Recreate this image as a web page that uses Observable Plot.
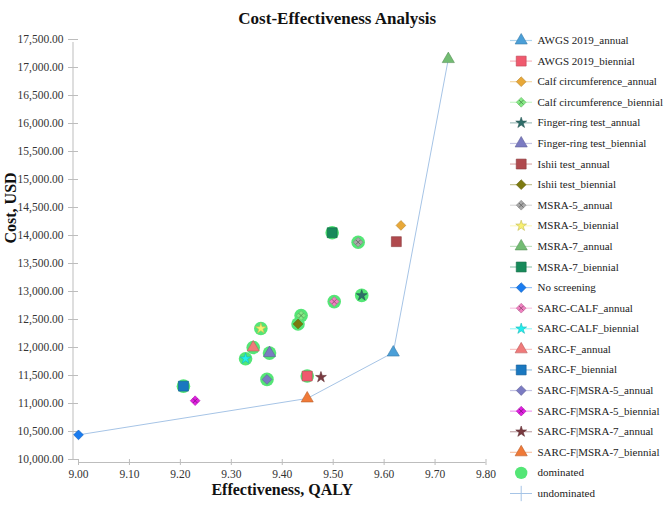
<!DOCTYPE html>
<html>
<head>
<meta charset="utf-8">
<script src="https://cdn.jsdelivr.net/npm/d3@7"></script>
<script src="https://cdn.jsdelivr.net/npm/@observablehq/plot@0.6"></script>
<style>
  body { margin: 0; background: #fff; }
  #chart { position: relative; width: 669px; height: 505px; overflow: hidden; }
  #chart svg { position: absolute; top: 0; }
</style>
</head>
<body>
<div id="chart"></div>
<script>
// Screening strategies: effectiveness (QALY) and cost (USD)
const strategies = [
  "AWGS 2019_annual", "AWGS 2019_biennial",
  "Calf circumference_annual", "Calf circumference_biennial",
  "Finger-ring test_annual", "Finger-ring test_biennial",
  "Ishii test_annual", "Ishii test_biennial",
  "MSRA-5_annual", "MSRA-5_biennial",
  "MSRA-7_annual", "MSRA-7_biennial",
  "No screening",
  "SARC-CALF_annual", "SARC-CALF_biennial",
  "SARC-F_annual", "SARC-F_biennial",
  "SARC-F|MSRA-5_annual", "SARC-F|MSRA-5_biennial",
  "SARC-F|MSRA-7_annual", "SARC-F|MSRA-7_biennial"
];
const qaly = [9.618, 9.449, 9.633, 9.437, 9.556, 9.375, 9.624, 9.431, 9.549, 9.358,
              9.726, 9.498, 9.000, 9.502, 9.328, 9.343, 9.206, 9.370, 9.229, 9.476, 9.449];
const cost = [11910, 11490, 14180, 12570, 12930, 11900, 13890, 12420, 13880, 12340,
              17150, 14050, 10440, 12820, 11800, 12000, 11310, 11430, 11050, 11470, 11090];
const dominated = [false, true, false, true, true, true, false, true, true, true,
                   false, true, false, true, true, true, true, true, false, false, false];
// Strategies on the cost-effectiveness frontier, in order of effectiveness
const frontier = ["No screening", "SARC-F|MSRA-7_biennial", "AWGS 2019_annual", "MSRA-7_annual"];

// Axis ticks
const costTicks = [10000, 10500, 11000, 11500, 12000, 12500, 13000, 13500,
                   14000, 14500, 15000, 15500, 16000, 16500, 17000, 17500];
const qalyTicks = [9.0, 9.1, 9.2, 9.3, 9.4, 9.5, 9.6, 9.7, 9.8];

// Marker styles per strategy
const symbols = ["triangle", "square", "diamond2", "diamond2", "star",
                 "triangle", "square", "diamond2", "diamond2", "star",
                 "triangle", "square", "diamond2", "diamond2", "star",
                 "triangle", "square", "diamond2", "diamond2", "star", "triangle"];
const fills = ["#4a9fd8", "#f05a6e", "#e8a838", "#84ea84", "#2f6e6a",
               "#7b7bc2", "#b04a4e", "#7c7a10", "#a8a8a8", "#f8f070",
               "#72bc72", "#178a5a", "#1a7cf0", "#f080c0", "#22eeee",
               "#f07a7a", "#1a78c0", "#7b7bc2", "#e020e0", "#7a3a40", "#f07a38"];
const hatched = [false, false, false, true, false, false, false, false, true, false,
                 false, false, false, true, false, false, false, false, true, false, false];
const symbolRadius = {triangle: 4.5, square: 5.6, diamond2: 4.4, star: 3.4};

const dominatedColor = "#54e676";
const frontierColor = "#a6c4e6";
const axisColor = "#bdbdbd";
const serif = "'Liberation Serif', 'Times New Roman', Times, serif";

const rows = strategies.map((name, i) => ({
  name, qaly: qaly[i], cost: cost[i], dominated: dominated[i],
  symbol: symbols[i], fill: fills[i], hatched: hatched[i]
}));
const byName = new Map(rows.map(d => [d.name, d]));
const frontierRows = frontier.map(n => byName.get(n));

// One dot mark per symbol kind, so each kind keeps its own fixed size
function markerMarks(data, x, y) {
  const marks = [];
  for (const sym of Object.keys(symbolRadius)) {
    const subset = data.filter(d => d.symbol === sym);
    if (!subset.length) continue;
    marks.push(Plot.dot(subset, {
      x, y, symbol: sym, r: symbolRadius[sym],
      fill: "fill", stroke: d => d3.color(d.fill).darker(0.7).formatHex(),
      strokeWidth: 0.6, fillOpacity: 1
    }));
  }
  const hatch = data.filter(d => d.hatched);
  marks.push(Plot.dot(hatch, {
    x, y, symbol: "times", r: 2.2,
    stroke: d => d3.color(d.fill).darker(1.4).formatHex(), strokeWidth: 0.9
  }));
  return marks;
}

const main = Plot.plot({
  width: 669,
  height: 505,
  marginLeft: 78,
  marginRight: 183.5,
  marginTop: 39,
  marginBottom: 46,
  x: {domain: [9.0, 9.8]},
  y: {domain: [10000, 17500]},
  color: {type: "identity"},
  style: {fontFamily: serif, background: "transparent"},
  marks: [
    // axis lines
    Plot.ruleX([9.0], {y1: 10000, y2: 17500, dx: -5.5, insetBottom: -3, stroke: axisColor}),
    Plot.ruleY([10000], {x1: 9.0, x2: 9.8, dy: 3, stroke: axisColor}),
    Plot.axisY(costTicks, {
      tickSize: 10, tickPadding: 5, tickFormat: d3.format(",.2f"),
      fontSize: 11.5, stroke: axisColor, fill: "#333", label: null
    }),
    Plot.axisX(qalyTicks, {
      tickSize: 6, tickPadding: 4, tickFormat: d3.format(".2f"),
      fontSize: 11.5, stroke: axisColor, fill: "#333", label: null
    }),
    // dominated strategies
    Plot.dot(rows.filter(d => d.dominated), {
      x: "qaly", y: "cost", r: 6.8, fill: dominatedColor, symbol: "circle"
    }),
    // frontier
    Plot.line(frontierRows, {x: "qaly", y: "cost", stroke: frontierColor, strokeWidth: 1}),
    ...markerMarks(rows, "qaly", "cost"),
    // titles
    Plot.text(["Cost-Effectiveness Analysis"], {
      text: d => d, frameAnchor: "top", dx: 55, dy: -28,
      fontSize: 17, fontWeight: "bold", fill: "#111"
    }),
    Plot.text(["Effectiveness, QALY"], {
      text: d => d, frameAnchor: "bottom", dy: 35,
      fontSize: 16, fontWeight: "bold", fill: "#111"
    }),
    Plot.text(["Cost, USD"], {
      text: d => d, frameAnchor: "left", rotate: -90, dx: -68, dy: -6,
      fontSize: 16, fontWeight: "bold", fill: "#111"
    })
  ]
});

// Legend
const legendRows = rows.map((d, i) => ({...d, i, kind: "strategy"}));
legendRows.push({name: "dominated", i: strategies.length, kind: "dominated"});
legendRows.push({name: "undominated", i: strategies.length + 1, kind: "undominated"});
const lighten = c => d3.interpolateRgb(c, "#ffffff")(0.55);

const legend = Plot.plot({
  width: 179,
  height: 505,
  margin: 0,
  x: {domain: [0, 179], range: [0, 179]},
  y: {domain: [0, legendRows.length - 1], range: [40, 493]},
  color: {type: "identity"},
  axis: null,
  style: {fontFamily: serif, background: "transparent"},
  marks: [
    Plot.ruleY(legendRows.filter(d => d.kind === "strategy"), {
      y: "i", x1: 20, x2: 42, stroke: d => lighten(d.fill), strokeWidth: 1.2
    }),
    Plot.ruleY(legendRows.filter(d => d.kind === "undominated"), {
      y: "i", x1: 20, x2: 42, stroke: frontierColor, strokeWidth: 1
    }),
    Plot.dot(legendRows.filter(d => d.kind === "undominated"), {
      x: 30.7, y: "i", symbol: "plus", r: 5, stroke: frontierColor, strokeWidth: 1
    }),
    Plot.dot(legendRows.filter(d => d.kind === "dominated"), {
      x: 30.7, y: "i", symbol: "circle", r: 6.2, fill: dominatedColor
    }),
    ...markerMarks(legendRows.filter(d => d.kind === "strategy"), 30.7, "i"),
    Plot.text(legendRows, {
      x: 47, y: "i", text: "name", textAnchor: "start",
      fontSize: 11, fill: "#222"
    })
  ]
});

const chart = document.getElementById("chart");
main.style.left = "0px";
legend.style.left = "490px";
chart.appendChild(main);
chart.appendChild(legend);
</script>
</body>
</html>
